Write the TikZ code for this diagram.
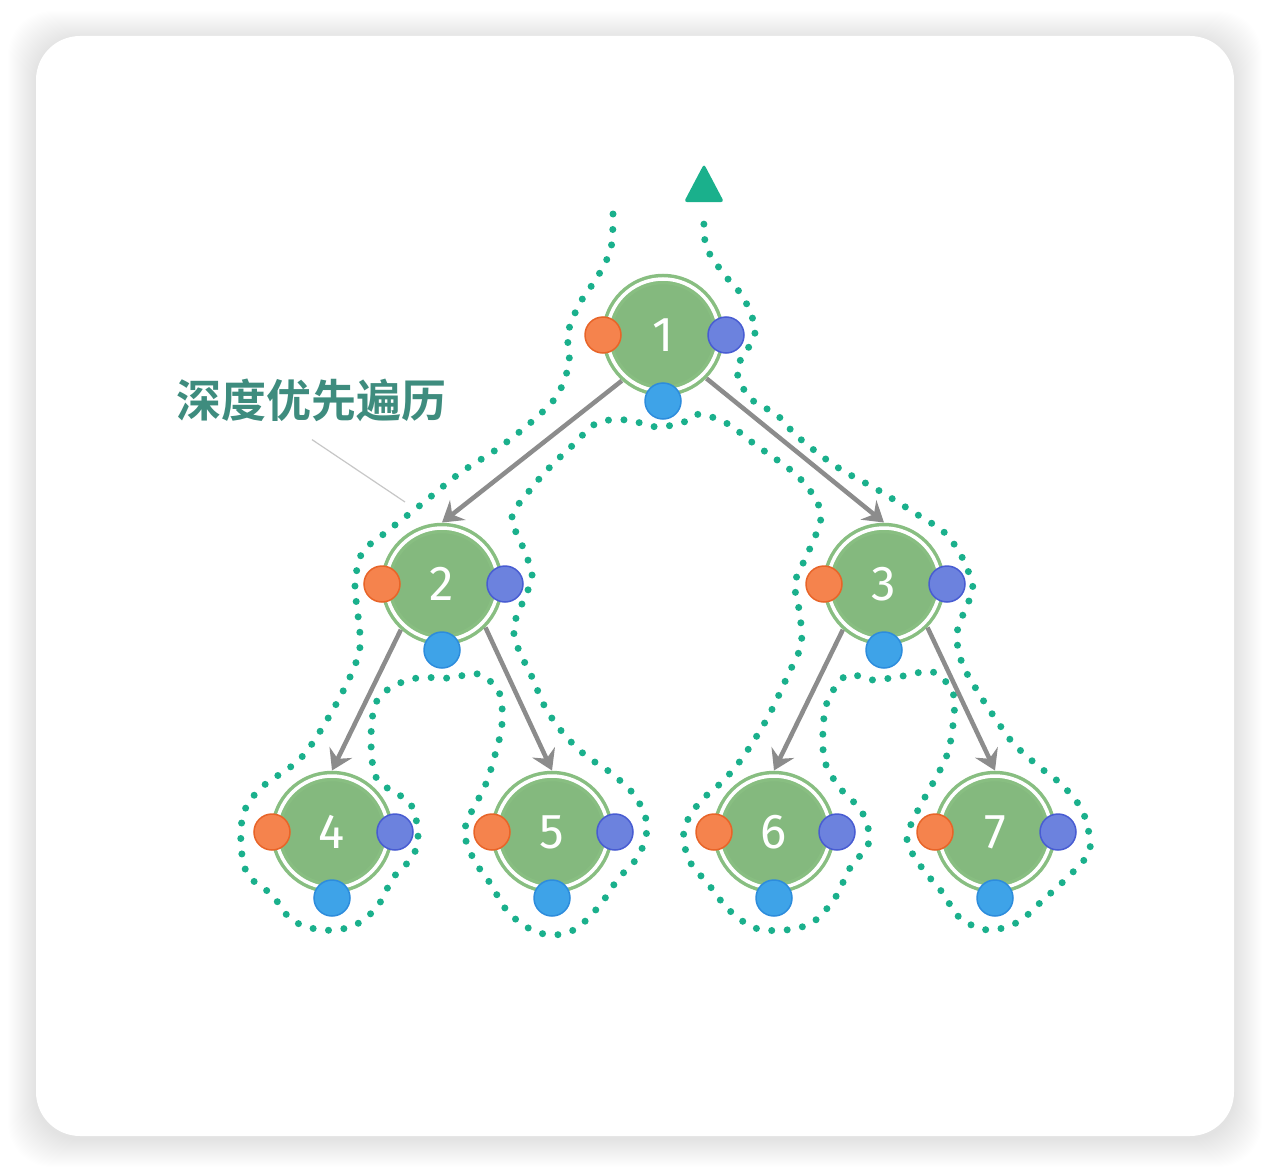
\documentclass[tikz,border=0pt]{standalone}
\usepackage{fontspec}
\newfontfamily\digitfont{Fira Sans}
\newfontfamily\cjkbold{Noto Sans CJK SC Bold}
\usetikzlibrary{arrows.meta}

\definecolor{treegreen}{RGB}{132,185,126}
\definecolor{ringgreen}{RGB}{136,190,129}
\definecolor{orangedot}{RGB}{245,131,77}
\definecolor{orangeline}{RGB}{232,100,40}
\definecolor{violetdot}{RGB}{108,130,222}
\definecolor{violetline}{RGB}{72,92,210}
\definecolor{bluedot}{RGB}{62,163,232}
\definecolor{blueline}{RGB}{45,140,220}
\definecolor{trailteal}{RGB}{26,176,140}
\definecolor{edgegray}{RGB}{140,140,140}
\definecolor{labelteal}{RGB}{62,140,126}

\tikzset{
  treenode/.style={circle, minimum size=112pt, inner sep=0pt, outer sep=5.5pt,
    fill=treegreen, draw=ringgreen, line width=3.5pt, double=white,
    double distance=3.5pt, text=white, font=\digitfont\fontsize{49}{49}\selectfont},
  portdot/.style={circle, minimum size=36pt, inner sep=0pt, line width=1.5pt},
  inport/.style={portdot, fill=orangedot, draw=orangeline},
  outport/.style={portdot, fill=violetdot, draw=violetline},
  midport/.style={portdot, fill=bluedot, draw=blueline},
  edge/.style={draw=edgegray, line width=4.5pt,
    -{Stealth[length=20pt, width=25pt, inset=7pt]}},
  trail/.style={draw=trailteal, line width=7pt, line cap=round,
    dash pattern=on 0pt off 15.5pt},
  leader/.style={draw=black!22, line width=1.2pt}
}

\begin{document}
\begin{tikzpicture}[x=1pt, y=-1pt]
  \useasboundingbox (0,0) rectangle (1270,1172);
  \fill[white] (0,0) rectangle (1270,1172);

  % card with soft shadow
  \foreach \s in {1,...,28} {
    \fill[black, opacity=0.005, rounded corners=44pt]
      (36-\s,36-\s+3) rectangle (1234+\s,1136+\s+3);
  }
  \fill[white, rounded corners=44pt] (36,36) rectangle (1234,1136);

  % traversal trail
  \draw[trail] plot[smooth, tension=0.55] coordinates {
    (613,214) (611,248) (598,276) (580,303) (568,333) (569,363) (558,394)
    (537,417) (500,447) (460,473) (423,503) (385,533) (362,553) (355,585)
    (358,615) (360,647) (350,677) (327,720) (300,759) (262,787) (244,812)
    (241,845) (248,875) (272,895) (292,920) (322,930) (353,926) (377,907)
    (393,878) (413,856) (418,832) (410,803) (390,790) (375,775) (371,740)
    (375,705) (390,688) (417,678) (450,678) (478,674) (499,692) (502,724)
    (495,755) (485,786) (465,828) (473,858) (490,883) (508,912) (532,930)
    (555,935) (577,928) (600,905) (618,879) (639,855) (647,825) (635,796)
    (611,773) (585,755) (563,733) (545,707) (532,677) (518,648) (514,625)
    (528,590) (532,573) (522,545) (512,517) (530,490) (550,467) (573,445)
    (597,423) (627,420) (658,427) (687,421) (700,414) (728,424) (753,443)
    (793,472) (813,495) (821,518) (808,553) (795,583) (800,615) (801,645)
    (788,675) (768,717) (743,757) (723,781) (699,803) (684,830) (689,860)
    (709,885) (729,910) (755,928) (786,930) (813,922) (835,898) (850,868)
    (869,842) (862,812) (840,788) (825,762) (823,730) (828,700) (847,675)
    (873,680) (903,676) (933,672) (953,693) (953,725) (947,755) (933,783)
    (917,812) (907,840) (922,868) (942,892) (960,918) (988,930) (1018,922)
    (1043,900) (1067,878) (1087,856) (1090,840) (1082,810) (1062,785)
    (1037,765) (1013,743) (995,718) (978,692) (962,663) (957,633) (968,603)
    (973,588) (963,559) (945,533) (918,515) (878,490) (837,467) (798,437)
    (777,415) (750,398) (737,370) (751,343) (755,327) (743,297) (723,273)
    (706,246) (704,214)
  };
  \fill[trailteal, rounded corners=3pt] (684,202) -- (704,164) -- (724,202) -- cycle;

  % tree nodes with their three ports
  \foreach \n/\x/\y in {1/663/335, 2/442/584, 3/884/584,
                        4/332/832, 5/552/832, 6/774/832, 7/995/832} {
    \node[treenode] (n\n) at (\x,\y) {\n};
    \node[inport] (n\n-in) at ([xshift=-60pt]n\n.center) {};
    \node[outport] (n\n-out) at ([xshift=63pt]n\n.center) {};
    \node[midport] (n\n-mid) at ([yshift=-66pt]n\n.center) {};
  }

  \foreach \a/\b in {1/2, 2/4, 3/6} {
    \draw[edge] (n\a.228) -- (n\b.north);
  }
  \foreach \a/\b in {1/3, 2/5, 3/7} {
    \draw[edge] (n\a.315) -- (n\b.north);
  }

  \node[text=labelteal, inner sep=0pt, font=\cjkbold\fontsize{45}{45}\selectfont]
    (label) at (311,400) {深度优先遍历};
  \coordinate (leadtip) at (405,502);
  \draw[leader] ([xshift=1pt, yshift=-18pt]label.south) -- (leadtip);
\end{tikzpicture}
\end{document}
